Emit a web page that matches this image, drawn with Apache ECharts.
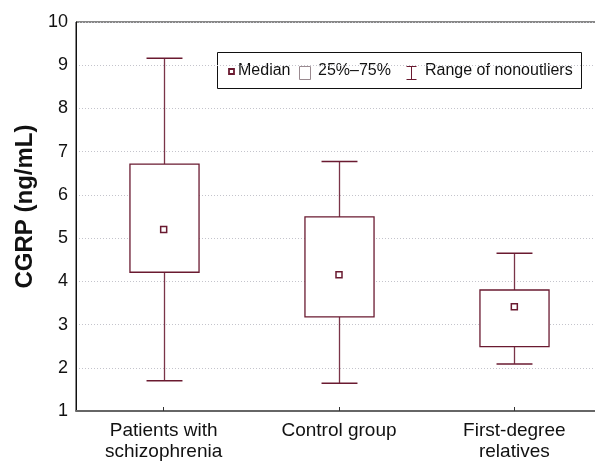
<!DOCTYPE html>
<html>
<head>
<meta charset="utf-8">
<script src="https://cdn.jsdelivr.net/npm/echarts@6/dist/echarts.min.js"></script>
<style>
html,body{margin:0;padding:0;background:#fff;}
#chart{width:595px;height:464px;}
</style>
</head>
<body>
<div id="chart"></div>
<script>
var categories = ['Patients with\nschizophrenia', 'Control group', 'First-degree\nrelatives'];
var minVals = [1.70, 1.64, 2.09];
var q1Vals = [4.21, 3.18, 2.49];
var medianVals = [5.20, 4.15, 3.41];
var q3Vals = [6.71, 5.49, 3.80];
var maxVals = [9.16, 6.77, 4.65];
var yTicks = [1, 10, 1]; // min, max, interval
var legendLabels = ['Median', '25%\u201375%', 'Range of nonoutliers'];
var yTitle = 'CGRP (ng/mL)';

var FONT = 'Liberation Sans, Arial, sans-serif';
var BOX = '#6a1a30';
var STEM = '#7a3448';

var boxData = categories.map(function (c, i) {
  return [i, minVals[i], q1Vals[i], medianVals[i], q3Vals[i], maxVals[i]];
});
var medData = categories.map(function (c, i) { return [i, medianVals[i]]; });

function renderBox(params, api) {
  var idx = api.value(0);
  var band = api.size([1, 0])[0];
  var boxW = band * 0.394;
  var capW = band * 0.205;
  var pMin = api.coord([idx, api.value(1)]);
  var pQ1 = api.coord([idx, api.value(2)]);
  var pQ3 = api.coord([idx, api.value(4)]);
  var pMax = api.coord([idx, api.value(5)]);
  var x = Math.round(pMin[0]) + 0.5;
  return {
    type: 'group',
    children: [
      {type: 'line', shape: {x1: x, y1: pMax[1], x2: x, y2: pQ3[1]}, style: {stroke: STEM, lineWidth: 1.3}},
      {type: 'line', shape: {x1: x, y1: pQ1[1], x2: x, y2: pMin[1]}, style: {stroke: STEM, lineWidth: 1.3}},
      {type: 'line', shape: {x1: x - capW / 2, y1: pMax[1], x2: x + capW / 2, y2: pMax[1]}, style: {stroke: BOX, lineWidth: 1.5}},
      {type: 'line', shape: {x1: x - capW / 2, y1: pMin[1], x2: x + capW / 2, y2: pMin[1]}, style: {stroke: BOX, lineWidth: 1.5}},
      {type: 'rect', shape: {x: x - boxW / 2, y: pQ3[1], width: boxW, height: pQ1[1] - pQ3[1]},
        style: {fill: '#fff', stroke: BOX, lineWidth: 1.3}}
    ]
  };
}

var chart = echarts.init(document.getElementById('chart'), null, {renderer: 'canvas'});
chart.setOption({
  animation: false,
  backgroundColor: '#fff',
  grid: {left: 76, top: 22, width: 526, height: 389, containLabel: false, outerBoundsMode: 'none',
    show: true, borderColor: '#111', borderWidth: 1, backgroundColor: 'transparent'},
  xAxis: {
    type: 'category',
    data: categories,
    boundaryGap: true,
    axisLine: {lineStyle: {color: '#666', width: 2}},
    axisTick: {show: true, inside: true, alignWithLabel: true, length: 4, lineStyle: {color: '#333'}},
    axisLabel: {fontFamily: FONT, fontSize: 19, lineHeight: 21, color: '#111', margin: 9, interval: 0},
    splitLine: {show: false}
  },
  yAxis: {
    type: 'value',
    min: yTicks[0], max: yTicks[1], interval: yTicks[2],
    name: yTitle,
    nameLocation: 'middle',
    nameGap: 38,
    nameTextStyle: {fontFamily: FONT, fontSize: 24, fontWeight: 'bold', color: '#111', padding: [0, 0, 0, 20]},
    axisLine: {show: true, lineStyle: {color: '#111', width: 1}},
    axisTick: {show: false},
    axisLabel: {fontFamily: FONT, fontSize: 18, color: '#111', margin: 8},
    splitLine: {show: true, lineStyle: {color: '#c4c4cc', type: [1, 2], width: 1}}
  },
  series: [
    {type: 'custom', renderItem: renderBox, data: boxData, encode: {x: 0, y: [1, 2, 3, 4, 5]}, z: 2},
    {type: 'scatter', data: medData, symbol: 'rect', symbolSize: 6,
      itemStyle: {color: '#fff', borderColor: BOX, borderWidth: 1.5, opacity: 1}, z: 3}
  ],
  graphic: [{
    type: 'group', left: 217, top: 52,
    children: [
      {type: 'rect', shape: {x: 0.5, y: 0.5, width: 364, height: 36}, style: {fill: '#fff', stroke: '#111', lineWidth: 1}},
      {type: 'rect', shape: {x: 12, y: 17, width: 5, height: 5}, style: {fill: '#fff', stroke: BOX, lineWidth: 1.8}},
      {type: 'text', x: 21, y: 19, style: {text: legendLabels[0], font: '16px ' + FONT, fill: '#111', textVerticalAlign: 'middle'}},
      {type: 'rect', shape: {x: 82.5, y: 14.5, width: 11, height: 13}, style: {fill: '#fff', stroke: '#9a8a90', lineWidth: 1}},
      {type: 'text', x: 101, y: 19, style: {text: legendLabels[1], font: '16px ' + FONT, fill: '#111', textVerticalAlign: 'middle'}},
      {type: 'line', shape: {x1: 194.5, y1: 14.5, x2: 194.5, y2: 27.5}, style: {stroke: BOX, lineWidth: 1}},
      {type: 'line', shape: {x1: 189.5, y1: 14.5, x2: 199.5, y2: 14.5}, style: {stroke: BOX, lineWidth: 1}},
      {type: 'line', shape: {x1: 189.5, y1: 27.5, x2: 199.5, y2: 27.5}, style: {stroke: BOX, lineWidth: 1}},
      {type: 'text', x: 208, y: 19, style: {text: legendLabels[2], font: '16px ' + FONT, fill: '#111', textVerticalAlign: 'middle'}}
    ]
  }]
});
</script>
</body>
</html>
